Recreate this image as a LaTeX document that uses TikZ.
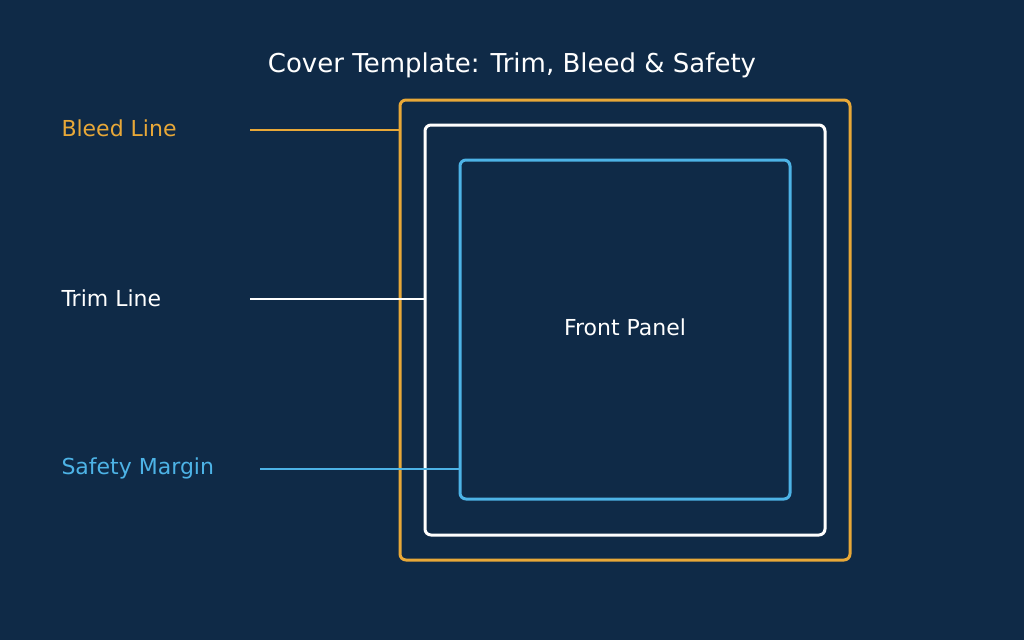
\documentclass[tikz,border=0pt]{standalone}
\usepackage{fontspec}
\setmainfont{DejaVu Sans}
\definecolor{bgnavy}{HTML}{0F2A47}
\definecolor{bleedorange}{HTML}{E8A838}
\definecolor{safetyblue}{HTML}{4DB3E6}
\tikzset{every picture/.style={line width=0.75pt}}
\tikzset{
  frame/.style={draw, rounded corners=4.5, line width=2.25pt, inner sep=0pt},
  label/.style={anchor=west, inner sep=0.75pt, font=\fontsize{16.5}{18}\selectfont},
  leader/.style={line width=1.2pt}
}
\begin{document}
\begin{tikzpicture}[x=0.75pt,y=0.75pt,yscale=-1,xscale=1]
    %background
    \fill[bgnavy] (0,0) rectangle (1024,640);
    \useasboundingbox (0,0) rectangle (1024,640);

    % Title
    \node (title) at (512,65) [white, font=\fontsize{19.5}{22}\selectfont] {Cover Template: Trim, Bleed \& Safety};

    % Frames
    \node (bleed) [frame, bleedorange, minimum width=337.5pt, minimum height=345pt] at (625,330) {};
    \node (trim) [frame, white, minimum width=300pt, minimum height=307.5pt] at (625,330) {};
    \node (safety) [frame, safetyblue, minimum width=247.5pt, minimum height=254.25pt] at (625,329.5) {};
    \node (panel) at (625,327) [white, font=\fontsize{16.5}{18}\selectfont] {Front Panel};

    % Labels
    \node (bleedtxt) [label, bleedorange] at (60,128) {Bleed Line};
    \node (trimtxt) [label, white] at (60,298) {Trim Line};
    \node (safetytxt) [label, safetyblue] at (60,468) {Safety Margin};

    % Leader lines
    \coordinate (bleedL) at (250,130);
    \coordinate (trimL) at (250,299);
    \coordinate (safetyL) at (260,469);
    \draw[leader, bleedorange] (bleedL) -- (bleedL -| bleed.west);
    \draw[leader, white] (trimL) -- (trimL -| trim.west);
    \draw[leader, safetyblue] (safetyL) -- (safetyL -| safety.west);
\end{tikzpicture}
\end{document}
